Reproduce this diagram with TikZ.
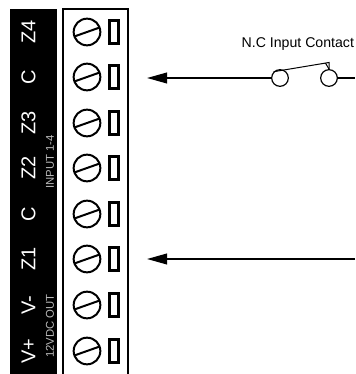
\documentclass[tikz,border=0pt]{standalone}
\usepackage{fontspec}
\setmainfont{Liberation Sans}
\usetikzlibrary{arrows.meta}
\tikzset{every picture/.style={line width=0.75pt}}
\tikzset{
  termlabel/.style={text=white,font=\fontsize{15}{15}\selectfont,rotate=90,inner sep=0pt},
  grouplabel/.style={text=white!72!black,font=\fontsize{8.5}{10}\selectfont,rotate=90,inner sep=0pt},
  screwhead/.style={draw,circle,line width=1.5pt,minimum size=20pt,inner sep=0pt},
  contact/.style={draw,circle,line width=0.9pt,minimum size=12.5pt,inner sep=0pt,fill=white},
  wire/.style={line width=1.3pt,-{Triangle[length=15pt,width=8pt]}}
}
\begin{document}
\begin{tikzpicture}[x=0.75pt,y=0.75pt,yscale=-1,xscale=1]
\useasboundingbox (0,0) rectangle (355,374);
% terminal strip
\fill (10,9) rectangle (57,374);
\draw [line width=1.5pt] (63,374) -- (63,9.5) -- (127.5,9.5) -- (127.5,374);
% screws and slots
\foreach \row/\cy/\name in {1/32/Z4,2/77/C,3/123/Z3,4/168/Z2,5/214/C,6/259/Z1,7/305/V-,8/351/V+}{
  \node [screwhead] (screw\row) at (87,\cy) {};
  \draw [line width=1.5pt] (74.3,\cy+4.5) -- (99.7,\cy-4.5);
  \draw [line width=1.7pt] (109.6,\cy-11.5) rectangle (118.4,\cy+11.5);
  \node [termlabel] (label\row) at (28.5,\cy) {\name};
}
% group labels
\node [grouplabel] (inputs) at (50,162) {INPUT 1-4};
\node [grouplabel] (dcout) at (50,326) {12VDC OUT};
% wires
\coordinate (endA) at (355,78);
\coordinate (endB) at (355,259);
\coordinate (tipA) at (147,78);
\coordinate (tipB) at (147,259);
\coordinate (armEnd) at (329,62.5);
\node [contact] (contactL) at (280,78) {};
\node [contact] (contactR) at (329,78) {};
\draw [wire] (contactL) -- (tipA);
\draw [line width=1.3pt] (contactR) -- (endA);
\draw [wire] (endB) -- (tipB);
\draw (contactL.north west) -- (armEnd) -- (contactR.north);
\draw (armEnd) ++(-3.5,0.6) -- (contactR.north);
\node [inner sep=0pt,font=\fontsize{10.6}{12}\selectfont,anchor=east] (title) at (354.5,44) {N.C Input Contact};
\end{tikzpicture}
\end{document}
